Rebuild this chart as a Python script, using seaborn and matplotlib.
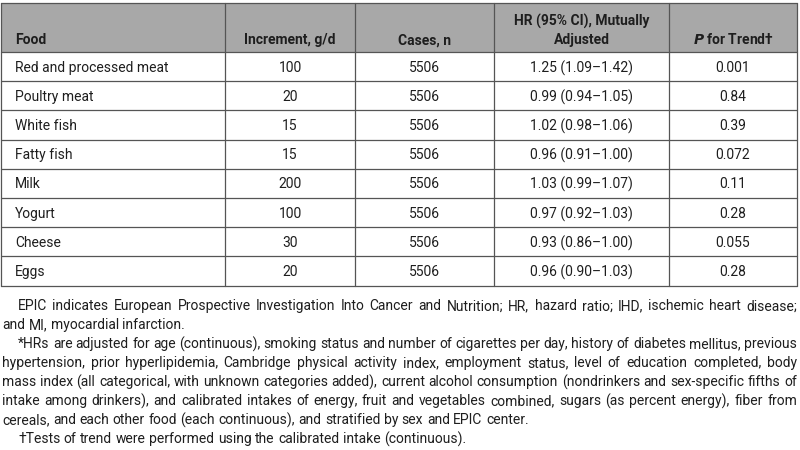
import math

import matplotlib
matplotlib.use("Agg")
import matplotlib.pyplot as plt
import seaborn as sns

# table content
headers = ["Food", "Increment, g/d", "Cases, n", "HR (95% CI), Mutually\nAdjusted", "P for Trend\u2020"]
foods = ["Red and processed meat", "Poultry meat", "White fish", "Fatty fish",
         "Milk", "Yogurt", "Cheese", "Eggs"]
increments = ["100", "20", "15", "15", "200", "100", "30", "20"]
cases = ["5506"] * 8
hrs = ["1.25 (1.09\u20131.42)", "0.99 (0.94\u20131.05)", "1.02 (0.98\u20131.06)",
       "0.96 (0.91\u20131.00)", "1.03 (0.99\u20131.07)", "0.97 (0.92\u20131.03)",
       "0.93 (0.86\u20131.00)", "0.96 (0.90\u20131.03)"]
p_trend = ["0.001", "0.84", "0.39", "0.072", "0.11", "0.28", "0.055", "0.28"]

# footnote lines: (text, indented, justified)
notes = [
    ("EPIC indicates European Prospective Investigation Into Cancer and Nutrition; HR, hazard ratio; IHD, ischemic heart disease;", True, True),
    ("and MI, myocardial infarction.", False, False),
    ("*HRs are adjusted for age (continuous), smoking status and number of cigarettes per day, history of diabetes mellitus, previous", True, True),
    ("hypertension, prior hyperlipidemia, Cambridge physical activity index, employment status, level of education completed, body", False, True),
    ("mass index (all categorical, with unknown categories added), current alcohol consumption (nondrinkers and sex-specific fifths of", False, True),
    ("intake among drinkers), and calibrated intakes of energy, fruit and vegetables combined, sugars (as percent energy), fiber from", False, True),
    ("cereals, and each other food (each continuous), and stratified by sex and EPIC center.", False, False),
    ("\u2020Tests of trend were performed using the calibrated intake (continuous).", True, False),
]

sns.set_style("white")
plt.rcParams["font.family"] = ["Roboto", "DejaVu Sans"]

fig = plt.figure(figsize=(8, 4.5), dpi=100)
ax = fig.add_axes([0, 0, 1, 1])
ax.set_xlim(0, 800)
ax.set_ylim(450, 0)
ax.axis("off")

col_edges = [1, 225, 355, 494, 669, 797]
top, head_bot, row_h = 3, 52, 29.2
n = len(foods)
bottom = head_bot + n * row_h
line_c = "#555555"
txt_c = "#1e1e1e"
fs = 10
base = 5.5  # baseline offset below the visual centre of a line


def snap(y):
    # keep baselines off the .5 pixel mark so every word rounds the same way
    return math.floor(y) + 0.25


ax.axhspan(top, head_bot, xmin=col_edges[0] / 800, xmax=col_edges[-1] / 800,
           color="#a8a8a8", lw=0)
for y in [top, head_bot] + [head_bot + (i + 1) * row_h for i in range(n)]:
    ax.plot([col_edges[0], col_edges[-1]], [y, y], color=line_c, lw=0.9)
for x in col_edges:
    ax.plot([x, x], [top, bottom], color=line_c, lw=0.9)

# header
hy = snap(38.5 + base)
bold = dict(fontsize=fs, fontweight="bold", color=txt_c, va="baseline")
ax.text(15, hy, headers[0], ha="left", **bold)
for j in (1, 2):
    cx = (col_edges[j] + col_edges[j + 1]) / 2
    ax.text(cx, hy, headers[j], ha="center", **bold)
cx = (col_edges[3] + col_edges[4]) / 2
for k, part in enumerate(headers[3].split("\n")):
    ax.text(cx, hy - 19 * (1 - k), part, ha="center", **bold)
cx = (col_edges[4] + col_edges[5]) / 2
ax.text(cx, hy, "$\\mathbfit{P}$ for Trend\u2020", ha="center", **bold)

# body
plain = dict(fontsize=fs, color=txt_c, va="baseline")
columns = [foods, increments, cases, hrs, p_trend]
for i in range(n):
    cy = snap(head_bot + (i + 0.5) * row_h + base)
    ax.text(15, cy, columns[0][i], ha="left", **plain)
    for j in range(1, 5):
        cx = (col_edges[j] + col_edges[j + 1]) / 2
        ax.text(cx, cy, columns[j][i], ha="center", **plain)

# footnotes, justified by hand word by word
fig.canvas.draw()
renderer = fig.canvas.get_renderer()
t = ax.text(0, 0, "a a", fontsize=fs)
t2 = ax.text(0, 0, "aa", fontsize=fs)
space_w = t.get_window_extent(renderer).width - t2.get_window_extent(renderer).width
t.remove()
t2.remove()

y0, dy = 305 + base, 19
left, indent, right = 2, 18, 797
for k, (line, ind, just) in enumerate(notes):
    y = snap(y0 + k * dy)
    x = indent if ind else left
    words = line.split(" ")
    objs = [ax.text(0, y, w, ha="left", **plain) for w in words]
    widths = [o.get_window_extent(renderer).width for o in objs]
    gap = space_w
    if just and len(words) > 1:
        gap = (right - x - sum(widths)) / (len(words) - 1)
    for o, w in zip(objs, widths):
        o.set_x(x)
        x += w + gap

fig.savefig("out.png", dpi=100)
